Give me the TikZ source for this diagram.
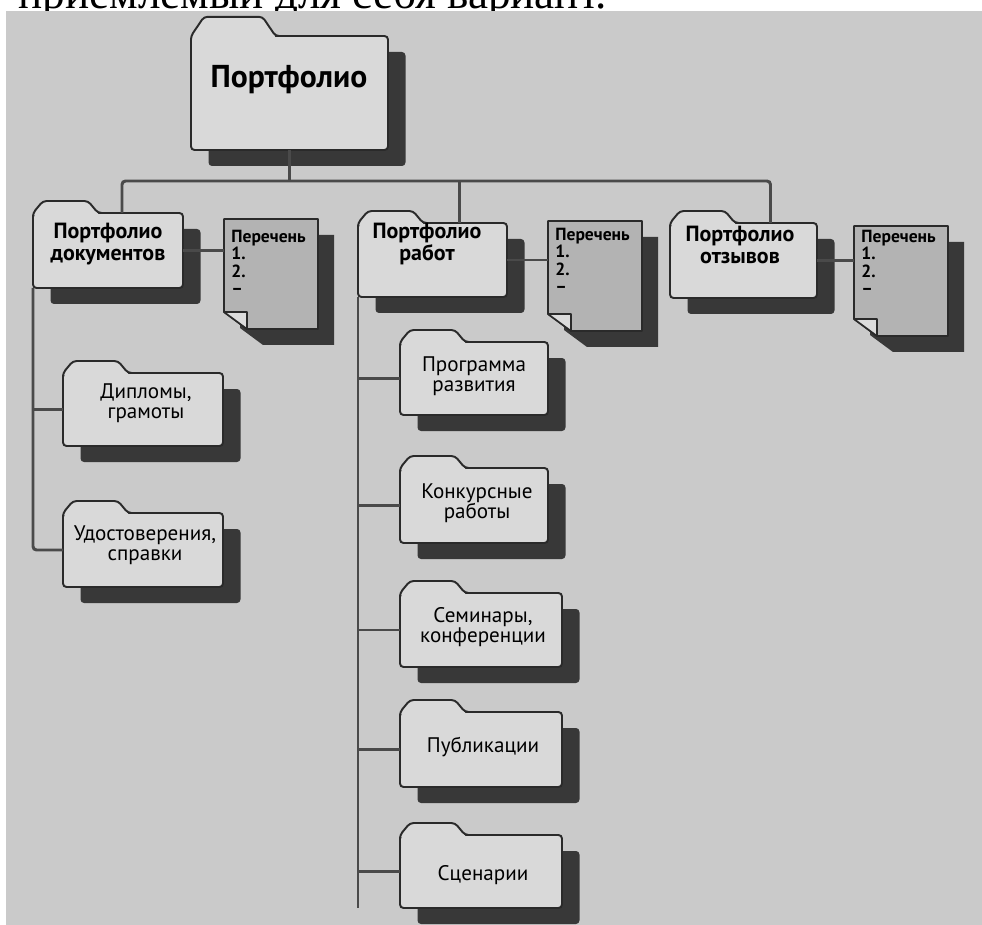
\documentclass[tikz,border=0pt]{standalone}
\usepackage{fontspec}
\setmainfont{PT Sans}
\newfontfamily\introfont{Liberation Serif}
\usetikzlibrary{positioning,calc,fit,shadows}

\definecolor{paper}{HTML}{CACACA}
\definecolor{folderc}{HTML}{D9D9D9}
\definecolor{docc}{HTML}{B3B3B3}
\definecolor{flapc}{HTML}{DCDCDC}
\definecolor{edgec}{HTML}{2A2A2A}
\definecolor{shadowc}{HTML}{383838}
\definecolor{linkc}{HTML}{4A4A4A}

\tikzset{
  folder/.style={draw=edgec, fill=folderc, line width=1.1pt, rounded corners=2pt,
                 inner sep=0pt, outer sep=0pt,
                 drop shadow={shadow xshift=3.5mm, shadow yshift=-3.2mm,
                              fill=shadowc, opacity=1}},
  list/.style={inner sep=0pt, outer sep=0pt},
  link/.style={draw=linkc, line width=1.7pt, rounded corners=2pt},
  rootlbl/.style={font=\bfseries\fontsize{18}{20}\selectfont, inner sep=0pt},
  toplbl/.style={font=\bfseries\fontsize{12.5}{12.5}\selectfont, align=center, inner sep=0pt},
  sublbl/.style={font=\fontsize{12}{11.5}\selectfont, align=center, inner sep=0pt},
  listlbl/.style={font=\bfseries\fontsize{10}{9.8}\selectfont, align=left, anchor=north west, inner sep=0pt},
  pics/foldertab/.style={code={
    \fill[folderc, rounded corners=2pt] (0,3) -- (0,0) -- (10,-12) -- (55,-12) -- (65,0) -- (65,3) -- cycle;
    \draw[edgec, line width=1.1pt, rounded corners=2pt, line join=round]
      (0,4) -- (0,0) -- (10,-12) -- (55,-12) -- (65,0) -- (68,0);
  }},
  pics/listsheet/.style={code={
    \fill[shadowc] (16,16) -- (110,16) -- (110,126) -- (39,126) -- (16,109) -- cycle;
    \filldraw[fill=docc, draw=edgec, line width=1pt, line join=round]
      (0,0) -- (94,0) -- (94,110) -- (23,110) -- (0,93) -- cycle;
    \filldraw[fill=flapc, draw=edgec, line width=0.9pt, line join=round]
      (0,93) -- (23,93) -- (23,110) -- cycle;
  }},
}

\begin{document}
\begin{tikzpicture}[x=0.2mm, y=-0.2mm]
  \useasboundingbox (0,0) rectangle (982,925);
  \fill[white] (0,0) rectangle (982,925);
  \node[font=\introfont\fontsize{25.7}{28}\selectfont, anchor=base east, inner sep=0pt]
    (intro) at (607,9) {приемлемый для себя вариант.};
  \fill[paper] (6,11) rectangle (982,925);

  % root
  \node[folder, fit={(191,36) (388,150)}] (root) {};
  \pic[xscale=1.3, yscale=1.6] at (root.north west) {foldertab};

  % level 1 and lists
  \node[folder, fit={(33,213) (183,288)}] (docs) {};
  \node[folder, fit={(358,223) (507,297)}] (works) {};
  \node[folder, fit={(670,223) (817,298)}] (reviews) {};
  \node[list, fit={(224,219) (318,329)}] (listA) {};
  \node[list, fit={(548,221) (642,331)}] (listB) {};
  \node[list, fit={(854,226) (948,336)}] (listC) {};

  % level 2
  \node[folder, fit={(63,373) (223,446)}] (diplomas) {};
  \node[folder, fit={(63,513) (223,587)}] (certs) {};
  \node[folder, fit={(400,342) (548,415)}] (program) {};
  \node[folder, fit={(400,468) (548,543)}] (contests) {};
  \node[folder, fit={(400,593) (562,667)}] (seminars) {};
  \node[folder, fit={(400,712) (562,787)}] (papers) {};
  \node[folder, fit={(400,835) (562,908)}] (scripts) {};

  \foreach \n in {docs,works,reviews,diplomas,certs,program,contests,seminars,papers,scripts}
    \pic at (\n.north west) {foldertab};
  \foreach \n in {listA,listB,listC}
    \pic at (\n.north west) {listsheet};

  % labels
  \node[rootlbl] (root-t) at (289,80) {Портфолио};
  \node[toplbl] (docs-t) at (108,244) {Портфолио\\документов};
  \node[toplbl] (works-t) at (427,244) {Портфолио\\работ};
  \node[toplbl] (reviews-t) at (740,245) {Портфолио\\отзывов};
  \node[sublbl] (diplomas-t) at (146,403) {Дипломы,\\грамоты};
  \node[sublbl] (certs-t) at (145,545) {Удостоверения,\\справки};
  \node[sublbl] (program-t) at (474,376) {Программа\\развития};
  \node[sublbl] (contests-t) at (477,503) {Конкурсные\\работы};
  \node[sublbl] (seminars-t) at (483,627) {Семинары,\\конференции};
  \node[sublbl] (papers-t) at (483,747) {Публикации};
  \node[sublbl] (scripts-t) at (483,875) {Сценарии};
  \node[listlbl] (listA-t) at (231,230) {Перечень\\1.\\2.\\–};
  \node[listlbl] (listB-t) at (555,228) {Перечень\\1.\\2.\\–};
  \node[listlbl] (listC-t) at (861,230) {Перечень\\1.\\2.\\–};

  % connectors
  \coordinate (bus) at ($(root.south)+(0,31)$);
  \coordinate (docsdrop) at ($(docs.north)+(14,0)$);
  \coordinate (worksdrop) at ($(works.north)+(27,0)$);
  \coordinate (reviewsdrop) at ($(reviews.north)+(27,0)$);
  \draw[link] (root.south) -- (bus);
  \draw[link] (docsdrop) |- (bus) -| (reviewsdrop);
  \draw[link] (worksdrop) -- (worksdrop |- bus);
  \foreach \f/\d in {docs/listA,works/listB,reviews/listC}
    \draw[link] (\f.east) -- (\f.east -| \d.west);
  \draw[link] (docs.south west) |- (certs.west);
  \draw[link] (docs.south west |- diplomas.west) -- (diplomas.west);
  \draw[link] (works.south west) -- (works.south west |- scripts.south);
  \foreach \n in {program,contests,seminars,papers,scripts}
    \draw[link] (works.south west |- \n.west) -- (\n.west);
\end{tikzpicture}
\end{document}
